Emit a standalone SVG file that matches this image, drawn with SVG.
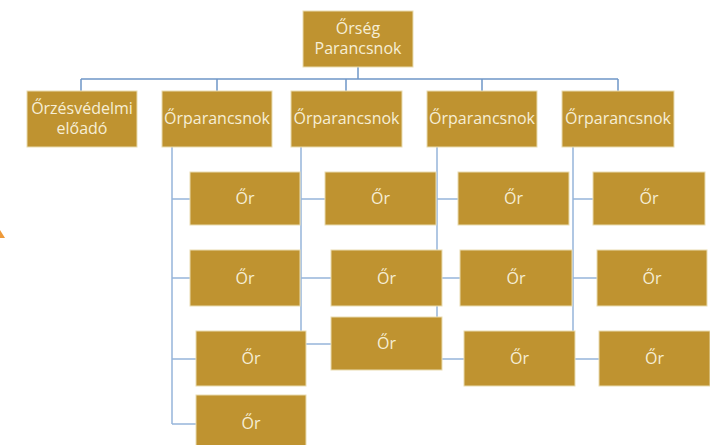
<svg xmlns="http://www.w3.org/2000/svg" width="710" height="445" viewBox="0 0 710 445">
<style>
.box{fill:#bf9330;stroke:#e9dcb0;stroke-width:1}
.t{font-family:"Open Sans","Liberation Sans",sans-serif;font-size:16px;fill:#f6eed6;text-anchor:middle}
.c{fill:none;stroke:#96b5da;stroke-width:1.5}
.cd{fill:none;stroke:#6f97c8;stroke-width:1.5}
</style>
<rect width="710" height="445" fill="#ffffff"/>
<polygon points="0,230 5,238 0,238" fill="#ee9a3a"/>
<g id="connectors">
<path class="cd" d="M358,67 V79 M81,79 H618 M81,79 V91 M217,79 V91 M346,79 V91 M482,79 V91 M618,79 V91"/>
<path class="c" d="M172,147 V424 M172,199 H190 M172,278 H190 M172,359 H196 M172,424 H196"/>
<path class="c" d="M301,147 V344 M301,199 H325 M301,278 H331 M301,344 H331"/>
<path class="c" d="M437,147 V359 M437,199 H458 M437,278 H460 M437,359 H464"/>
<path class="c" d="M573,147 V359 M573,199 H593 M573,278 H597 M573,359 H599"/>
</g>
<g id="n-top"><rect class="box" x="303" y="11" width="110" height="56"/><text class="t" x="358" y="34">Őrség</text><text class="t" x="358" y="54">Parancsnok</text></g>
<g id="n-eloado"><rect class="box" x="27" y="91" width="110" height="56"/><text class="t" x="82" y="114">Őrzésvédelmi</text><text class="t" x="82" y="134">előadó</text></g>
<g id="n-p1"><rect class="box" x="162" y="91" width="110" height="56"/><text class="t" x="217" y="124">Őrparancsnok</text></g>
<g id="n-p2"><rect class="box" x="291" y="91" width="111" height="56"/><text class="t" x="346.5" y="124">Őrparancsnok</text></g>
<g id="n-p3"><rect class="box" x="427" y="91" width="110" height="56"/><text class="t" x="482" y="124">Őrparancsnok</text></g>
<g id="n-p4"><rect class="box" x="562" y="91" width="112" height="56"/><text class="t" x="618" y="124">Őrparancsnok</text></g>
<g id="n-a1"><rect class="box" x="190" y="172" width="110" height="53"/><text class="t" x="245" y="204">Őr</text></g>
<g id="n-a2"><rect class="box" x="190" y="250" width="110" height="56"/><text class="t" x="245" y="284">Őr</text></g>
<g id="n-a3"><rect class="box" x="196" y="331" width="110" height="55"/><text class="t" x="251" y="364">Őr</text></g>
<g id="n-a4"><rect class="box" x="196" y="395" width="110" height="55"/><text class="t" x="251" y="429">Őr</text></g>
<g id="n-b1"><rect class="box" x="325" y="172" width="111" height="53"/><text class="t" x="380.5" y="204">Őr</text></g>
<g id="n-b2"><rect class="box" x="331" y="250" width="111" height="56"/><text class="t" x="386.5" y="284">Őr</text></g>
<g id="n-b3"><rect class="box" x="331" y="317" width="111" height="53"/><text class="t" x="386.5" y="349">Őr</text></g>
<g id="n-c1"><rect class="box" x="458" y="172" width="111" height="53"/><text class="t" x="513.5" y="204">Őr</text></g>
<g id="n-c2"><rect class="box" x="460" y="250" width="112" height="56"/><text class="t" x="516" y="284">Őr</text></g>
<g id="n-c3"><rect class="box" x="464" y="331" width="111" height="55"/><text class="t" x="519.5" y="364">Őr</text></g>
<g id="n-d1"><rect class="box" x="593" y="172" width="112" height="53"/><text class="t" x="649" y="204">Őr</text></g>
<g id="n-d2"><rect class="box" x="597" y="250" width="110" height="56"/><text class="t" x="652" y="284">Őr</text></g>
<g id="n-d3"><rect class="box" x="599" y="331" width="111" height="55"/><text class="t" x="654.5" y="364">Őr</text></g>
</svg>
